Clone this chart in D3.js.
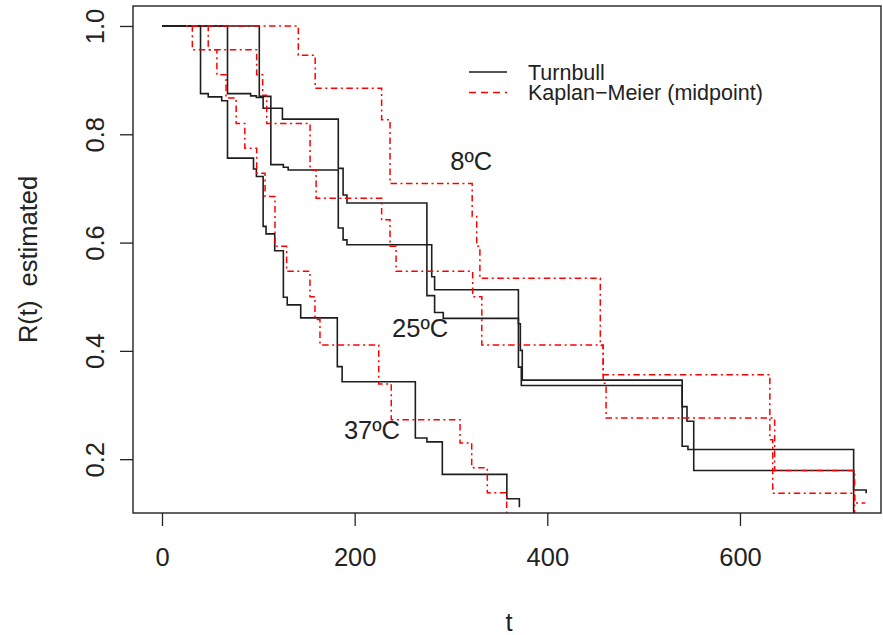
<!DOCTYPE html>
<html>
<head>
<meta charset="utf-8">
<script src="https://cdn.jsdelivr.net/npm/d3@7"></script>
<style>
  body { margin: 0; background: #fff; }
  svg { display: block; font-family: "Liberation Sans", Arial, Helvetica, sans-serif; }
</style>
</head>
<body>
<div id="chart"></div>
<script>
// Turnbull estimates (black, solid)
const tb8Time  = [0, 68, 92, 98, 105, 125, 183, 188, 192, 275, 280, 283, 370, 372, 374, 540, 545, 552, 718, 731];
const tb8Surv  = [1, 0.875, 0.871, 0.868, 0.848, 0.828, 0.737, 0.688, 0.673, 0.596, 0.537, 0.513, 0.450, 0.401, 0.346, 0.297, 0.270, 0.218, 0.143, 0.137];
const tb25Time = [0, 101, 113, 126, 131, 183, 188, 192, 275, 283, 292, 370, 373, 540, 546, 552, 718];
const tb25Surv = [1, 0.870, 0.744, 0.739, 0.734, 0.627, 0.605, 0.596, 0.502, 0.471, 0.460, 0.370, 0.336, 0.224, 0.218, 0.179, 0.09];
const tb37Time = [0, 40, 48, 62, 68, 95, 98, 105, 108, 117, 126, 130, 144, 182, 187, 263, 275, 291, 358, 371];
const tb37Surv = [1, 0.875, 0.869, 0.862, 0.756, 0.736, 0.722, 0.630, 0.616, 0.585, 0.499, 0.485, 0.461, 0.371, 0.343, 0.239, 0.232, 0.172, 0.127, 0.111];

// Kaplan-Meier (midpoint) estimates (red, dash-dot)
const km8Time  = [25, 141.5, 159, 228, 236.7, 322, 326.7, 330, 455, 458, 631, 634, 719];
const km8Surv  = [1, 0.946, 0.885, 0.827, 0.709, 0.648, 0.593, 0.534, 0.41, 0.356, 0.236, 0.137, 0.05];
const km25Time = [25, 48, 98.3, 104.5, 108.7, 153.7, 160, 228, 236.7, 243, 322.5, 332, 458, 461, 636, 719, 730];
const km25Surv = [1, 0.956, 0.910, 0.872, 0.820, 0.734, 0.682, 0.642, 0.593, 0.547, 0.500, 0.411, 0.34, 0.276, 0.179, 0.119, 0.119];
const km37Time = [25, 31.5, 57, 66.5, 77, 86, 98.3, 107, 117.3, 129.4, 153.6, 158.8, 164, 225, 238, 309.4, 321.5, 337.7, 357.8];
const km37Surv = [1, 0.956, 0.910, 0.867, 0.820, 0.774, 0.728, 0.685, 0.593, 0.547, 0.500, 0.458, 0.411, 0.339, 0.273, 0.230, 0.184, 0.138, 0.05];

// curve labels
const labelText = ["8ºC", "25ºC", "37ºC"];
const labelT    = [321, 268, 218];
const labelR    = [0.751, 0.443, 0.254];

// ticks and legend
const xTicks = [0, 200, 400, 600];
const yTicks = [0.2, 0.4, 0.6, 0.8, 1.0];
const legendNames = ["Turnbull", "Kaplan\u2212Meier (midpoint)"];

const width = 883, height = 635;
const margin = {top: 6, right: 2, bottom: 122, left: 133};
const plotW = width - margin.left - margin.right,
      plotH = height - margin.top - margin.bottom;

const x = d3.scaleLinear().domain([-30.1, 746.4]).range([0, plotW]);
const y = d3.scaleLinear().domain([0.1006, 1.0369]).range([plotH, 0]);

const svg = d3.select("#chart").append("svg")
  .attr("width", width).attr("height", height);

svg.append("defs").append("clipPath").attr("id", "plotclip")
  .append("rect").attr("width", plotW).attr("height", plotH);

const g = svg.append("g").attr("transform", `translate(${margin.left},${margin.top})`);

// axes
const fontSize = 25.5;
const axX = g.append("g").attr("transform", `translate(0,${plotH})`)
  .call(d3.axisBottom(x).tickValues(xTicks).tickSize(13).tickFormat(d3.format("d")));
axX.select(".domain").remove();
axX.selectAll("line").attr("stroke", "#222").attr("stroke-width", 1.3);
axX.selectAll("text").attr("y", 53).attr("dy", 0)
  .attr("font-size", fontSize).attr("fill", "#222").attr("font-family", null);

const axY = g.append("g")
  .call(d3.axisLeft(y).tickValues(yTicks).tickSize(13).tickFormat(d3.format(".1f")));
axY.select(".domain").remove();
axY.selectAll("line").attr("stroke", "#222").attr("stroke-width", 1.3);
axY.selectAll("text").attr("transform", "rotate(-90)")
  .attr("x", 0).attr("y", -29).attr("dy", 0).attr("text-anchor", "middle")
  .attr("font-size", fontSize).attr("fill", "#222").attr("font-family", null);

axX.attr("font-family", null);
axY.attr("font-family", null);

// axis titles
svg.append("text")
  .attr("transform", `translate(37,${margin.top + plotH / 2}) rotate(-90)`)
  .attr("text-anchor", "middle").attr("font-size", fontSize).attr("fill", "#222")
  .attr("xml:space", "preserve").style("white-space", "pre")
  .text("R(t)  estimated");
svg.append("text")
  .attr("x", margin.left + plotW / 2 + 2).attr("y", 631)
  .attr("text-anchor", "middle").attr("font-size", fontSize).attr("fill", "#222")
  .text("t");

// step curves
const step = d3.line()
  .x(d => x(d[0])).y(d => y(d[1]))
  .curve(d3.curveStepAfter);

const plot = g.append("g").attr("clip-path", "url(#plotclip)");

const turnbull = [[tb8Time, tb8Surv], [tb25Time, tb25Surv], [tb37Time, tb37Surv]];
const kaplan = [[km8Time, km8Surv], [km25Time, km25Surv], [km37Time, km37Surv]];

plot.selectAll("path.tb").data(turnbull).join("path")
  .classed("tb", true)
  .attr("d", d => step(d3.zip(d[0], d[1])))
  .attr("fill", "none").attr("stroke", "#1e1e1e").attr("stroke-width", 1.6);

plot.selectAll("path.km").data(kaplan).join("path")
  .classed("km", true)
  .attr("d", d => step(d3.zip(d[0], d[1])))
  .attr("fill", "none").attr("stroke", "#ff0000").attr("stroke-width", 1.5)
  .attr("stroke-dasharray", "2,3.5,6.5,3.5");

// curve labels
g.selectAll("text.lab").data(d3.zip(labelText, labelT, labelR)).join("text")
  .classed("lab", true)
  .attr("x", d => x(d[1])).attr("y", d => y(d[2]))
  .attr("dy", "0.36em").attr("text-anchor", "middle")
  .attr("font-size", fontSize).attr("fill", "#222")
  .text(d => d[0]);

// plot box
g.append("rect").attr("width", plotW).attr("height", plotH)
  .attr("fill", "none").attr("stroke", "#222").attr("stroke-width", 1.4);

// legend (no box)
const legend = svg.append("g").attr("transform", "translate(469,72)");
const legRows = legend.selectAll("g").data(legendNames).join("g")
  .attr("transform", (d, i) => `translate(0,${i * 20.5})`);
legRows.append("line").attr("x1", 0).attr("x2", 38)
  .attr("stroke", (d, i) => i === 0 ? "#1e1e1e" : "#ff0000")
  .attr("stroke-width", 1.5)
  .attr("stroke-dasharray", (d, i) => i === 0 ? null : "7,5");
legRows.append("text").attr("x", 59).attr("dy", "0.35em")
  .attr("font-size", 21.5).attr("fill", "#222")
  .text(d => d);
</script>
</body>
</html>
